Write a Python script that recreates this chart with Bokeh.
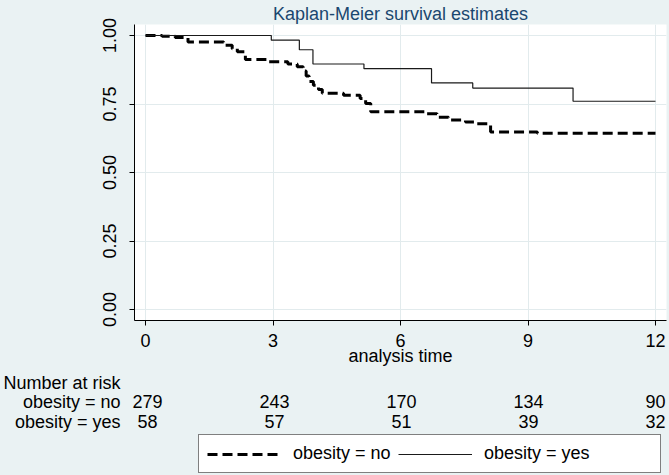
from bokeh.plotting import figure
from bokeh.layouts import column, row
from bokeh.models import (Range1d, FixedTicker, PrintfTickFormatter, LabelSet,
                          ColumnDataSource, Legend, LegendItem)
from bokeh.core.properties import value
from bokeh.embed import file_html
from bokeh.resources import INLINE

# ---------------- data ----------------
title_text = "Kaplan-Meier survival estimates"
x_label = "analysis time"
x_ticks = [0, 3, 6, 9, 12]
y_ticks = [0.0, 0.25, 0.5, 0.75, 1.0]
end_time = 12

no_times = [0, 0.39, 0.70, 1.00, 1.84, 2.04, 2.16, 2.35, 2.86, 3.35, 3.57, 3.71,
            3.78, 3.85, 3.95, 4.07, 4.16, 4.66, 5.05, 5.18, 5.30, 6.60, 6.86,
            7.13, 7.53, 7.76, 8.12, 9.22]
no_surv = [1.0, 0.997, 0.993, 0.976, 0.964, 0.952, 0.941, 0.912, 0.904, 0.896,
           0.886, 0.870, 0.852, 0.832, 0.818, 0.803, 0.789, 0.782, 0.770, 0.752,
           0.722, 0.714, 0.702, 0.692, 0.684, 0.678, 0.648, 0.643]

yes_times = [0, 2.96, 3.62, 3.94, 5.14, 6.73, 7.70, 10.06]
yes_surv = [1.0, 0.983, 0.948, 0.896, 0.879, 0.827, 0.808, 0.760]

risk_title = "Number at risk"
group_labels = ["obesity = no", "obesity = yes"]
risk_times = [0, 3, 6, 9, 12]
risk_no = [279, 243, 170, 134, 90]
risk_yes = [58, 57, 51, 39, 32]

# ---------------- styling / layout ----------------
FONT = "Liberation Sans"
BG = "#EAF2F3"
GRID = "#E2EBED"
FS = "18px"
W = 669
H_MAIN = 372
H_TAB = 475 - H_MAIN

kx = 42.5          # px per time unit
x0_px = 145        # pixel of time 0
ky = 274.0

x_start = -(x0_px - 134) / kx
x_end = (666 - x0_px) / kx
y_start = -11 / ky
y_end = 1 + 11 / ky

p = figure(width=W, height=H_MAIN, output_backend="svg", toolbar_location=None,
           x_range=Range1d(x_start, x_end), y_range=Range1d(y_start, y_end),
           min_border_left=134, min_border_right=W - 666, min_border_top=24,
           min_border_bottom=H_MAIN - 320)
p.border_fill_color = BG
p.background_fill_color = "white"
p.outline_line_color = None

p.title.text = title_text
p.title.align = "center"
p.title.text_font = FONT
p.title.text_font_size = FS
p.title.text_font_style = "normal"
p.title.text_color = "#1A476F"
p.title.standoff = 2

for ax in (p.xaxis[0], p.yaxis[0]):
    ax.axis_line_color = "black"
    ax.axis_line_width = 1
    ax.major_tick_line_color = "black"
    ax.major_tick_out = 5
    ax.major_tick_in = 0
    ax.minor_tick_line_color = None
    ax.major_label_text_font = FONT
    ax.major_label_text_font_size = FS
    ax.major_label_text_color = "black"

p.xaxis.major_label_standoff = 8
p.yaxis.major_label_standoff = 14
p.xaxis.ticker = FixedTicker(ticks=x_ticks)
p.yaxis.ticker = FixedTicker(ticks=y_ticks)
p.yaxis.formatter = PrintfTickFormatter(format="%.2f")
p.yaxis.major_label_orientation = "vertical"
p.xaxis.axis_label = x_label
p.xaxis.axis_label_text_font = FONT
p.xaxis.axis_label_text_font_size = FS
p.xaxis.axis_label_text_font_style = "normal"
p.xaxis.axis_label_text_color = "black"
p.xaxis.axis_label_standoff = -4

p.grid.grid_line_color = GRID
p.grid.grid_line_width = 1

xs_no = no_times + [end_time]
ys_no = no_surv + [no_surv[-1]]
xs_yes = yes_times + [end_time]
ys_yes = yes_surv + [yes_surv[-1]]

NO_STYLE = dict(line_color="black", line_width=3, line_dash="10 5")
YES_STYLE = dict(line_color="#1a1a1a", line_width=1.2)

p.step(xs_no, ys_no, mode="after", **NO_STYLE)
p.step(xs_yes, ys_yes, mode="after", **YES_STYLE)

# ---------------- risk table + legend panel ----------------
row_y = [10, 29, 49]          # vertical positions of the table rows (px from panel top)
T_LEFT = 119                  # left edge of the table frame

t = figure(width=W, height=H_TAB, output_backend="svg", toolbar_location=None,
           x_range=Range1d(-(x0_px - T_LEFT) / kx, x_end), y_range=Range1d(H_TAB, 0),
           x_axis_type=None, y_axis_location="left",
           min_border_left=T_LEFT, min_border_right=W - 666, min_border_top=0,
           min_border_bottom=0)
t.border_fill_color = BG
t.background_fill_color = BG
t.outline_line_color = None
t.grid.visible = False

ya = t.yaxis[0]
ya.ticker = FixedTicker(ticks=row_y)
ya.major_label_overrides = {row_y[0]: risk_title, row_y[1]: group_labels[0],
                            row_y[2]: group_labels[1]}
ya.axis_line_color = None
ya.major_tick_line_color = None
ya.minor_tick_line_color = None
ya.major_tick_out = 0
ya.major_tick_in = 0
ya.major_label_standoff = 1
ya.major_label_text_font = FONT
ya.major_label_text_font_size = FS
ya.major_label_text_color = "black"

src = ColumnDataSource(dict(t=risk_times,
                            no=[str(v) for v in risk_no],
                            yes=[str(v) for v in risk_yes]))
for col, yy in (("no", row_y[1]), ("yes", row_y[2])):
    t.add_layout(LabelSet(x="t", y=yy, text=col, source=src, text_align="center",
                          text_baseline="middle", text_font=value(FONT),
                          text_font_size=value(FS), text_color="black"))

# legend proxies: same curves drawn on a range where they fall out of view
t.extra_y_ranges = {"proxy": Range1d(10, 11)}
l_no = t.step(xs_no, ys_no, mode="after", y_range_name="proxy", **NO_STYLE)
l_yes = t.step(xs_yes, ys_yes, mode="after", y_range_name="proxy", **YES_STYLE)

legend = Legend(items=[LegendItem(label=group_labels[0], renderers=[l_no]),
                       LegendItem(label=group_labels[1], renderers=[l_yes])],
                orientation="horizontal", location=(196 - T_LEFT, 2),
                glyph_width=74, glyph_height=20, label_standoff=12,
                label_width=102, label_height=20, spacing=3, padding=8, margin=0,
                title="\u00a0", title_location="right", title_standoff=60,
                title_text_font_size="2px",
                border_line_color="black", border_line_width=1,
                background_fill_color="white", background_fill_alpha=1.0,
                label_text_font=FONT, label_text_font_size=FS,
                label_text_color="black")
t.add_layout(legend)

page = column(p, row(t), spacing=0, styles={"background-color": BG})
open("out.html", "w").write(file_html(page, INLINE))
